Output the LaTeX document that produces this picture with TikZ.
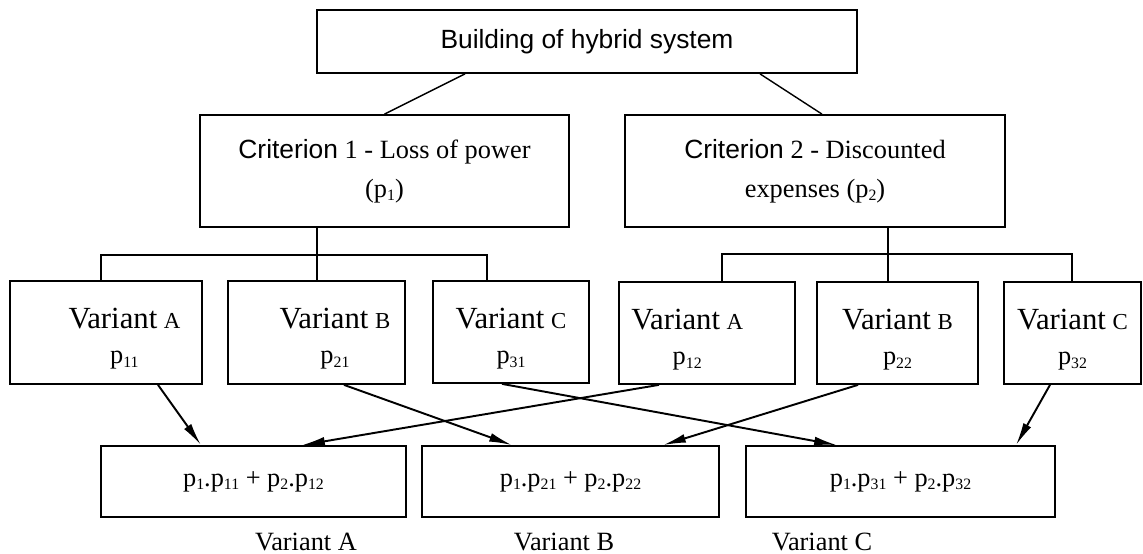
\documentclass[tikz,border=0pt]{standalone}
\usepackage{fontspec}
\setmainfont{Liberation Serif}
\setsansfont{Liberation Sans}
\usetikzlibrary{arrows.meta,calc}

\newcommand{\idx}[1]{\raisebox{-0.3ex}{\fontsize{9}{9}\selectfont #1}}
\newcommand{\var}[1]{\rule{0pt}{19pt}{\fontsize{17.5}{20}\selectfont Variant} {\fontsize{13}{20}\selectfont #1}}

\begin{document}
\begin{tikzpicture}[x=0.02cm, y=-0.02cm,
  box/.style={draw, line width=1pt, inner sep=0pt, align=center},
  txt/.style={font=\fontsize{15}{22}\selectfont},
  vtxt/.style={font=\fontsize{15}{20}\selectfont},
  link/.style={line width=0.8pt},
  arr/.style={line width=1.1pt, -{Latex[length=13pt, width=5pt]}}]

  % One unit = one pixel of the layout
  \def\px{0.02cm}

  \useasboundingbox (0,0) rectangle (1143,554);

  % Top box
  \node[box, txt, minimum width=540*\px, minimum height=63*\px] (top) at (587,41.5)
    {\sffamily Building of hybrid system};

  % Criteria
  \node[box, txt, minimum width=369*\px, minimum height=112*\px] (crit1) at (384.5,171)
    {{\sffamily Criterion} 1 - Loss of power\\(p\idx{1})};
  \node[box, txt, minimum width=380*\px, minimum height=112*\px] (crit2) at (815,171)
    {{\sffamily Criterion} 2 - Discounted\\expenses (p\idx{2})};

  % Variants of criterion 1
  \node[box, vtxt, minimum width=192*\px, minimum height=103*\px] (a1) at (106,332.5)
    {\hspace*{1.4em}\var{A}\\\hspace*{1.4em}p\idx{11}};
  \node[box, vtxt, minimum width=177*\px, minimum height=103*\px] (b1) at (316.5,332.5)
    {\hspace*{1.4em}\var{B}\\\hspace*{1.4em}p\idx{21}};
  \node[box, vtxt, minimum width=156*\px, minimum height=102*\px] (c1) at (511,332)
    {\var{C}\\p\idx{31}};

  % Variants of criterion 2
  \node[box, vtxt, minimum width=176*\px, minimum height=102*\px] (a2) at (707,333)
    {\var{A}\hspace*{1.5em}\\p\idx{12}\hspace*{1.5em}};
  \node[box, vtxt, minimum width=161*\px, minimum height=102*\px] (b2) at (897.5,333)
    {\var{B}\\p\idx{22}};
  \node[box, vtxt, minimum width=137*\px, minimum height=102*\px] (c2) at (1072.5,333)
    {\var{C}\\p\idx{32}};

  % Weighted sums
  \node[box, txt, minimum width=305*\px, minimum height=71*\px] (bot1) at (253.5,481.5)
    {p\idx{1}.p\idx{11} + p\idx{2}.p\idx{12}};
  \node[box, txt, minimum width=297*\px, minimum height=71*\px] (bot2) at (570.5,481.5)
    {p\idx{1}.p\idx{21} + p\idx{2}.p\idx{22}};
  \node[box, txt, minimum width=309*\px, minimum height=71*\px] (bot3) at (900.5,481.5)
    {p\idx{1}.p\idx{31} + p\idx{2}.p\idx{32}};

  % Captions
  \node[txt] (capa) at (306,542) {Variant A};
  \node[txt] (capb) at (564,542) {Variant B};
  \node[txt] (capc) at (822,542) {Variant C};

  % Tree lines
  \draw[link] ($(top.south)+(-122,0)$) -- (crit1.north);
  \draw[link] ($(top.south)+(173,0)$) -- ($(crit2.north)+(7,0)$);

  \coordinate (la) at (101,255);
  \coordinate (lb) at (317,255);
  \coordinate (lc) at (487,255);
  \draw[link] (a1.north -| la) -- (la) -- (lc) -- (c1.north -| lc);
  \draw[link] (lb |- crit1.south) -- (lb |- b1.north);

  \coordinate (ra) at (722,254);
  \coordinate (rb) at (888,254);
  \coordinate (rc) at (1072,254);
  \draw[link] (a2.north -| ra) -- (ra) -- (rc) -- (c2.north -| rc);
  \draw[link] (rb |- crit2.south) -- (rb |- b2.north);

  % Arrows
  \draw[arr] ($(a1.south)+(52,0)$) -- ($(bot1.north)+(-52.5,0)$);
  \draw[arr] ($(b1.south)+(27.5,0)$) -- ($(bot2.north)+(-58.5,0)$);
  \draw[arr] ($(c1.south)+(-9,0)$) -- ($(bot3.north)+(-63.5,0)$);
  \draw[arr] ($(a2.south)+(-48,0)$) -- ($(bot1.north)+(48.5,0)$);
  \draw[arr] ($(b2.south)+(-39.5,0)$) -- ($(bot2.north)+(92.5,0)$);
  \draw[arr] ($(c2.south)+(-22.5,0)$) -- ($(bot3.north)+(115.5,0)$);

\end{tikzpicture}
\end{document}
